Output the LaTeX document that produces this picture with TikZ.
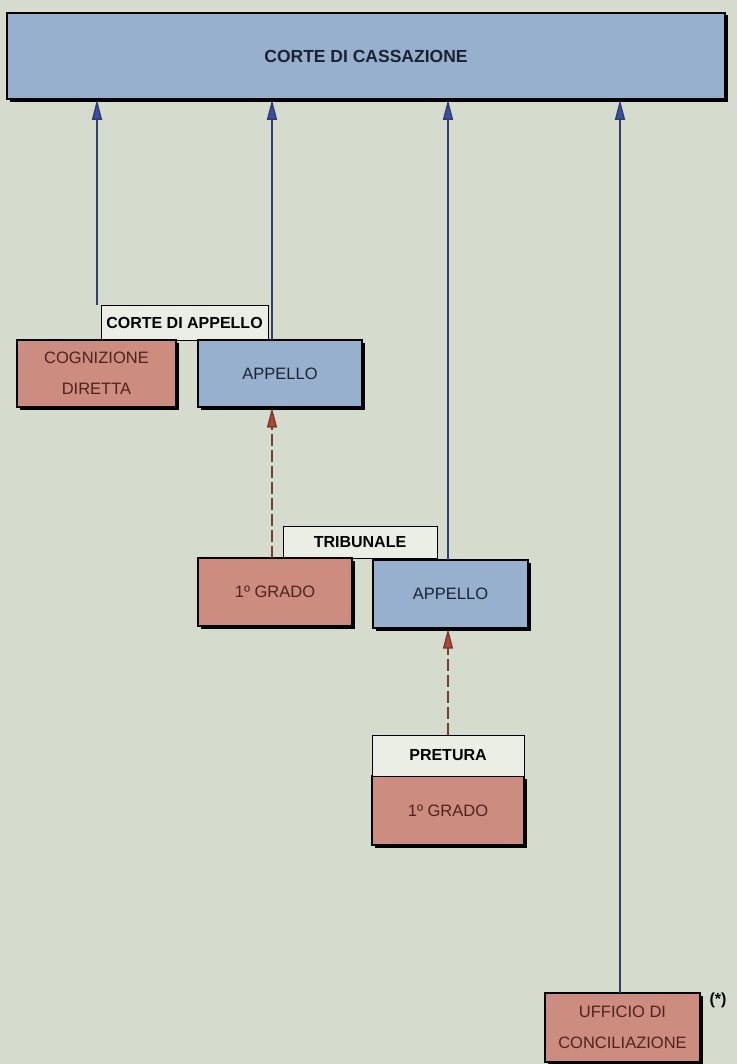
\documentclass[tikz,border=0pt]{standalone}
\usepackage{fontspec}
\setmainfont{Liberation Sans}
\usetikzlibrary{arrows.meta,shadows}
\definecolor{bg}{RGB}{214,220,205}
\definecolor{bluebox}{RGB}{150,176,206}
\definecolor{redbox}{RGB}{204,140,128}
\definecolor{labfill}{RGB}{234,238,228}
\definecolor{bline}{RGB}{50,62,110}
\definecolor{bhead}{RGB}{52,82,170}
\definecolor{rline}{RGB}{120,60,50}
\definecolor{rhead}{RGB}{176,72,48}
\definecolor{redtext}{RGB}{80,34,30}
\definecolor{bluetext}{RGB}{28,34,52}
\tikzset{
  box/.style={draw=black, line width=1.4pt, inner sep=0pt, align=center,
    general shadow={fill=black, shadow xshift=2.5pt, shadow yshift=-2.5pt},
    font=\fontsize{16.5}{31}\selectfont},
  bluebx/.style={box, fill=bluebox, text=bluetext},
  redbx/.style={box, fill=redbox, text=redtext},
  labelbx/.style={draw=black, line width=1pt, fill=labfill, inner sep=0pt,
    font=\bfseries\fontsize{16}{18}\selectfont, text=black},
  barrow/.style={draw=bline, line width=1.5pt, -{Triangle[length=20pt,width=10pt,fill=bhead]}},
  rarrow/.style={draw=rline, line width=1.5pt, dash pattern=on 12pt off 4pt,
    -{Triangle[length=20pt,width=10pt,fill=rhead]}},
}
\begin{document}
\begin{tikzpicture}[x=1pt,y=-1pt]
\fill[bg] (0,0) rectangle (737,1064);
\useasboundingbox (0,0) rectangle (737,1064);

% Corte di Cassazione
\node[bluebx, minimum width=718pt, minimum height=86pt, line width=1.6pt,
  general shadow={fill=black, shadow xshift=3pt, shadow yshift=-3.5pt},
  font=\bfseries\fontsize{17.5}{20}\selectfont]
  (cass) at (366,56) {CORTE DI CASSAZIONE};

% Corte di Appello
\node[labelbx, minimum width=167pt, minimum height=35pt] (lca) at (184.5,322.5) {CORTE DI APPELLO};
\node[redbx, minimum width=159pt, minimum height=67pt] (cogn) at (96.5,373.5) {COGNIZIONE\\DIRETTA};
\node[bluebx, minimum width=164pt, minimum height=67pt] (app1) at (280,373.5) {APPELLO};

% Tribunale
\node[labelbx, minimum width=154pt, minimum height=32pt] (ltrib) at (360,542) {TRIBUNALE};
\node[redbx, minimum width=154pt, minimum height=68pt] (gr1) at (275,592) {1º GRADO};
\node[bluebx, minimum width=155pt, minimum height=68pt] (app2) at (450.5,594) {APPELLO};

% Pretura
\node[redbx, minimum width=152pt, minimum height=69pt] (gr2) at (448,810.5) {1º GRADO};
\node[labelbx, minimum width=152pt, minimum height=41pt] (lpret) at (448,755.5) {PRETURA};

% Ufficio di conciliazione
\node[redbx, minimum width=155pt, minimum height=69pt] (uff) at (622.5,1027.5) {UFFICIO DI\\CONCILIAZIONE};
\node[font=\bfseries\fontsize{16}{18}\selectfont, inner sep=0pt] (star) at (718,1000) {(*)};

% connection points
\coordinate (s1) at (97,305);
\coordinate (s2) at (272,340);
\coordinate (s3) at (448,560);
\coordinate (s4) at (620,993);
\coordinate (r1) at (272,558);
\coordinate (r2) at (448,735);

\draw[barrow] (s1) -- (s1 |- cass.south);
\draw[barrow] (s2) -- (s2 |- cass.south);
\draw[barrow] (s3) -- (s3 |- cass.south);
\draw[barrow] (s4) -- (s4 |- cass.south);
\draw[rarrow] (r1) -- (r1 |- app1.south);
\draw[rarrow] (r2) -- (r2 |- app2.south);
\end{tikzpicture}
\end{document}
